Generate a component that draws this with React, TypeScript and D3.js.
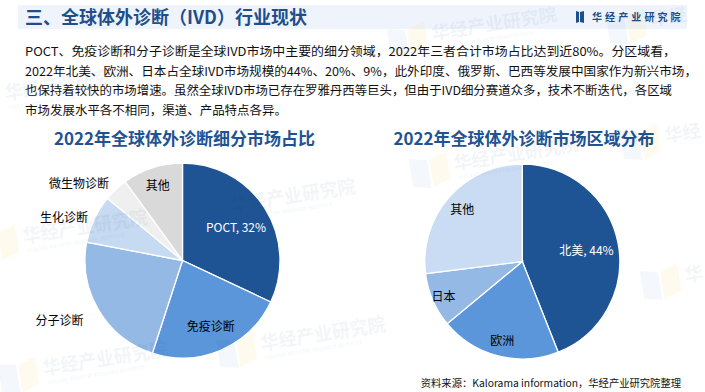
import React from "react";
import * as d3 from "d3";

const W = 705;
const H = 392;

const headerTitle = "三、全球体外诊断（IVD）行业现状";
const brandName = "华经产业研究院";
const paragraphLines = [
  "POCT、免疫诊断和分子诊断是全球IVD市场中主要的细分领域，2022年三者合计市场占比达到近80%。分区域看，",
  "2022年北美、欧洲、日本占全球IVD市场规模的44%、20%、9%，此外印度、俄罗斯、巴西等发展中国家作为新兴市场，",
  "也保持着较快的市场增速。虽然全球IVD市场已存在罗雅丹西等巨头，但由于IVD细分赛道众多，技术不断迭代，各区域",
  "市场发展水平各不相同，渠道、产品特点各异。",
];

const leftTitle = "2022年全球体外诊断细分市场占比";
const leftCategories = ["POCT", "免疫诊断", "分子诊断", "生化诊断", "微生物诊断", "其他"];
const leftValues = [32, 23, 23, 8, 4, 10];

const rightTitle = "2022年全球体外诊断市场区域分布";
const rightCategories = ["北美", "欧洲", "日本", "其他"];
const rightValues = [44, 20, 9, 27];

const sourceNote = "资料来源：Kalorama information，华经产业研究院整理";

const FONT = "'Noto Sans CJK SC', 'Noto Sans', sans-serif";
const NAVY = "#1f4e8c";

type LabelCfg = { mode: "in" | "out"; k: number; showValue: boolean; color: string };

function Pie(props: {
  cx: number;
  cy: number;
  r: number;
  cats: string[];
  values: number[];
  colors: string[];
  labels: LabelCfg[];
}) {
  const { cx, cy, r, cats, values, colors, labels } = props;
  const pie = d3
    .pie<number>()
    .sort(null)
    .value((d) => d)
    .startAngle(0)
    .endAngle(2 * Math.PI);
  const arc = d3.arc<d3.PieArcDatum<number>>().innerRadius(0).outerRadius(r);
  const arcs = pie(values);
  return (
    <g>
      {arcs.map((a, i) => (
        <path
          key={i}
          d={arc(a) || ""}
          transform={`translate(${cx},${cy})`}
          fill={colors[i]}
          stroke="#ffffff"
          strokeWidth={1.3}
        />
      ))}
      {arcs.map((a, i) => {
        const cfg = labels[i];
        const mid = (a.startAngle + a.endAngle) / 2;
        const rr = cfg.k * r;
        const x = cx + rr * Math.sin(mid);
        const y = cy - rr * Math.cos(mid);
        const txt = cfg.showValue ? `${cats[i]}, ${values[i]}%` : cats[i];
        return (
          <text
            key={"l" + i}
            x={x}
            y={y}
            textAnchor={cfg.mode === "out" ? "end" : "middle"}
            dominantBaseline="central"
            fontSize={12}
            fontFamily={FONT}
            fill={cfg.color}
          >
            {txt}
          </text>
        );
      })}
    </g>
  );
}

function Watermark(props: { x: number; y: number; icon?: boolean; chars?: number; sub?: boolean }) {
  const { x, y, icon, chars, sub } = props;
  const label = chars ? brandName.slice(0, chars) : brandName;
  return (
    <g transform={`translate(${x},${y}) rotate(-9)`} opacity={0.5}>
      {icon && (
        <g>
          <path d="M-44,-18 L-26,-14 L-26,14 L-44,10 Z" fill="#dbe6f5" />
          <path d="M-24,-14 L-6,-20 L-6,8 L-24,14 Z" fill="#fbf1c8" />
        </g>
      )}
      <text x={0} y={0} fontSize={18} fontWeight={700} fontFamily={FONT} fill="#d3dbe6">
        {label}
      </text>
      {sub !== false && (
        <text x={2} y={10} fontSize={5} fontFamily={FONT} fill="#d3dbe6">
          HUAJING INDUSTRY RESEARCH INSTITUTE
        </text>
      )}
    </g>
  );
}

export default function App() {
  const leftColors = ["#1f5494", "#5b96da", "#94b9e5", "#c6daf2", "#efefef", "#d9d9d9"];
  const rightColors = ["#1f5494", "#5b96da", "#94b9e5", "#c9dcf3"];
  const leftLabels: LabelCfg[] = [
    { mode: "in", k: 0.65, showValue: true, color: "#ffffff" },
    { mode: "in", k: 0.73, showValue: false, color: "#000000" },
    { mode: "out", k: 1.18, showValue: false, color: "#000000" },
    { mode: "out", k: 1.07, showValue: false, color: "#000000" },
    { mode: "out", k: 1.1, showValue: false, color: "#000000" },
    { mode: "in", k: 0.82, showValue: false, color: "#000000" },
  ];
  const rightLabels: LabelCfg[] = [
    { mode: "in", k: 0.67, showValue: true, color: "#ffffff" },
    { mode: "in", k: 0.83, showValue: false, color: "#000000" },
    { mode: "in", k: 0.88, showValue: false, color: "#000000" },
    { mode: "in", k: 0.82, showValue: false, color: "#000000" },
  ];
  const lineLengths = [651, 672, 647, 262];

  return (
    <svg
      width={W}
      height={H}
      viewBox={`0 0 ${W} ${H}`}
      style={{ position: "absolute", left: 0, top: 0, background: "#ffffff" }}
    >
      <rect x={0} y={0} width={W} height={H} fill="#ffffff" />
      {/* header band */}
      <rect x={18} y={5} width={669} height={24} fill="#eff4fc" />
      <text x={25} y={24} fontSize={18} fontWeight={700} fontFamily={FONT} fill={NAVY}>
        {headerTitle}
      </text>
      {/* brand logo */}
      <g>
        <path d="M576,11 L579,12 L579,22 L576,23 Z" fill={NAVY} />
        <path d="M580,12 L584,11 L584,23 L580,22 Z" fill={NAVY} />
        <text
          x={592}
          y={20.5}
          fontSize={10}
          fontWeight={700}
          fontFamily={FONT}
          fill={NAVY}
          letterSpacing={3.1}
        >
          {brandName}
        </text>
      </g>

      {/* paragraph */}
      {paragraphLines.map((line, i) => (
        <text
          key={i}
          x={25}
          y={56 + i * 19.5}
          fontSize={12.3}
          fontFamily={FONT}
          fill="#111111"
          textLength={lineLengths[i]}
          lengthAdjust="spacingAndGlyphs"
        >
          {line}
        </text>
      ))}

      {/* titles */}
      <text
        x={184.5}
        y={137}
        textAnchor="middle"
        dominantBaseline="central"
        fontSize={17}
        fontWeight={700}
        fontFamily={FONT}
        fill="#1f5392"
      >
        {leftTitle}
      </text>
      <text
        x={524}
        y={137}
        textAnchor="middle"
        dominantBaseline="central"
        fontSize={17}
        fontWeight={700}
        fontFamily={FONT}
        fill="#1f5392"
      >
        {rightTitle}
      </text>

      <Pie
        cx={182.5}
        cy={260.5}
        r={97.5}
        cats={leftCategories}
        values={leftValues}
        colors={leftColors}
        labels={leftLabels}
      />
      <Pie
        cx={522.3}
        cy={261.5}
        r={97.5}
        cats={rightCategories}
        values={rightValues}
        colors={rightColors}
        labels={rightLabels}
      />

      {/* watermarks */}
      <g style={{ mixBlendMode: "multiply" }} opacity={0.6}>
        <Watermark x={433} y={40} icon />
        <Watermark x={652} y={26} icon chars={2} sub={false} />
        <Watermark x={6} y={100} />
        <Watermark x={24} y={243} icon />
        <Watermark x={232} y={212} />
        <Watermark x={262} y={350} icon />
        <Watermark x={44} y={375} icon />
        <Watermark x={455} y={170} icon />
        <Watermark x={666} y={142} icon chars={2} sub={false} />
        <Watermark x={686} y={282} icon chars={1} sub={false} />
      </g>

      {/* source */}
      <text
        x={681}
        y={387}
        textAnchor="end"
        fontSize={10.3}
        fontFamily={FONT}
        fill="#111111"
      >
        {sourceNote}
      </text>
    </svg>
  );
}
